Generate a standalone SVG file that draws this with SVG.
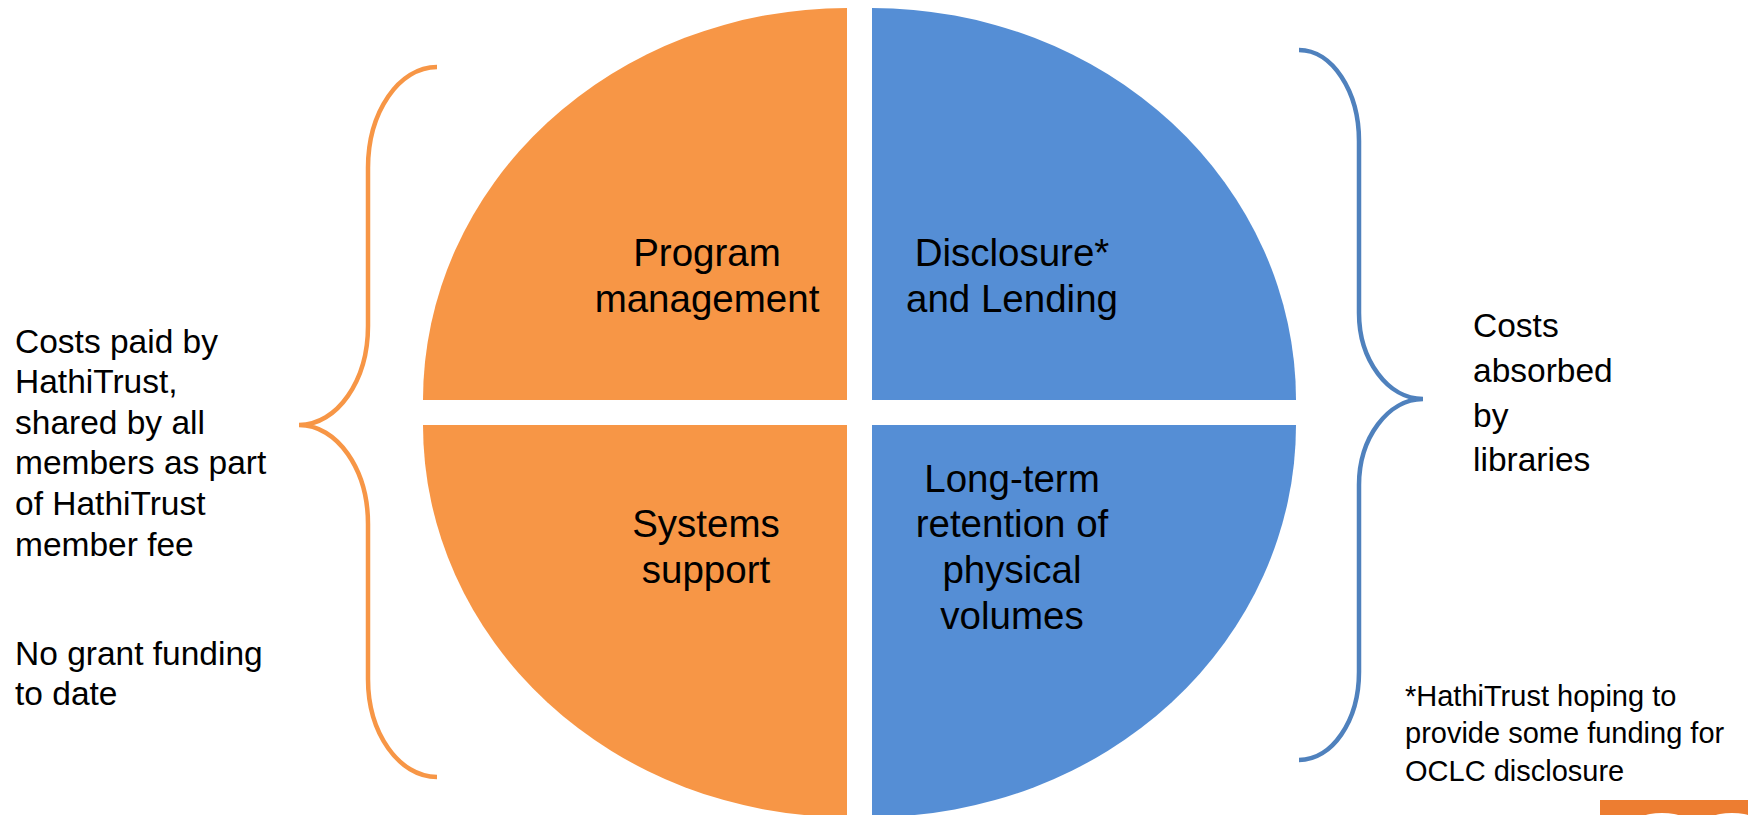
<svg xmlns="http://www.w3.org/2000/svg" width="1748" height="815" viewBox="0 0 1748 815">
<style>
.q{font-family:"Liberation Sans",Arial,sans-serif;font-size:38.5px;fill:#000;text-anchor:middle}
.s{font-family:"Liberation Sans",Arial,sans-serif;font-size:33.5px;fill:#000}
.f{font-family:"Liberation Sans",Arial,sans-serif;font-size:29px;fill:#000}
.brace{fill:none;stroke-width:4.5;stroke-linecap:butt;stroke-linejoin:miter}
</style>
<rect width="1748" height="815" fill="#fff"/>
<g id="program-management">
<path d="M847,400 L423,400 A424,392 0 0 1 847,8 Z" fill="#F79646"/>
<text class="q" x="707" y="266">Program</text>
<text class="q" x="707" y="312">management</text>
</g>
<g id="disclosure-lending">
<path d="M872,400 L872,8 A424,392 0 0 1 1296,400 Z" fill="#558ED5"/>
<text class="q" x="1012" y="266">Disclosure*</text>
<text class="q" x="1012" y="312">and Lending</text>
</g>
<g id="systems-support">
<path d="M847,425 L423,425 A424,392 0 0 0 847,817 Z" fill="#F79646"/>
<text class="q" x="706" y="537">Systems</text>
<text class="q" x="706" y="583">support</text>
</g>
<g id="long-term-retention">
<path d="M872,425 L1296,425 A424,392 0 0 1 872,817 Z" fill="#558ED5"/>
<text class="q" x="1012" y="492">Long-term</text>
<text class="q" x="1012" y="537">retention of</text>
<text class="q" x="1012" y="583">physical</text>
<text class="q" x="1012" y="629">volumes</text>
</g>
<g id="connectors">
<path class="brace" stroke="#F79646" d="M437,67 C399,67 368,112 368,168 L368,326 C368,381 337,425 299,425 C337,425 368,469 368,524 L368,679 C368,733 399,777 437,777"/>
<path class="brace" stroke="#4F81BD" d="M1299,50 C1332,50 1359,91 1359,141 L1359,313 C1359,360 1388,399 1423,399 C1388,399 1359,438 1359,485 L1359,672 C1359,721 1332,760 1299,760"/>
</g>
<g id="left-note">
<text class="s" x="15" y="353">Costs paid by</text>
<text class="s" x="15" y="393">HathiTrust,</text>
<text class="s" x="15" y="434">shared by all</text>
<text class="s" x="15" y="474">members as part</text>
<text class="s" x="15" y="515">of HathiTrust</text>
<text class="s" x="15" y="556">member fee</text>
<text class="s" x="15" y="665">No grant funding</text>
<text class="s" x="15" y="705">to date</text>
</g>
<g id="right-note">
<text class="s" x="1473" y="337">Costs</text>
<text class="s" x="1473" y="382">absorbed</text>
<text class="s" x="1473" y="427">by</text>
<text class="s" x="1473" y="471">libraries</text>
</g>
<g id="footnote">
<text class="f" x="1405" y="706">*HathiTrust hoping to</text>
<text class="f" x="1405" y="743">provide some funding for</text>
<text class="f" x="1405" y="781">OCLC disclosure</text>
</g>
<g id="corner-tab">
<rect x="1600" y="800" width="148" height="15" fill="#ED7D31"/>
<ellipse cx="1662" cy="816" rx="17" ry="3" fill="#fff"/>
<ellipse cx="1732" cy="816" rx="17" ry="3" fill="#fff"/>
</g>
</svg>
